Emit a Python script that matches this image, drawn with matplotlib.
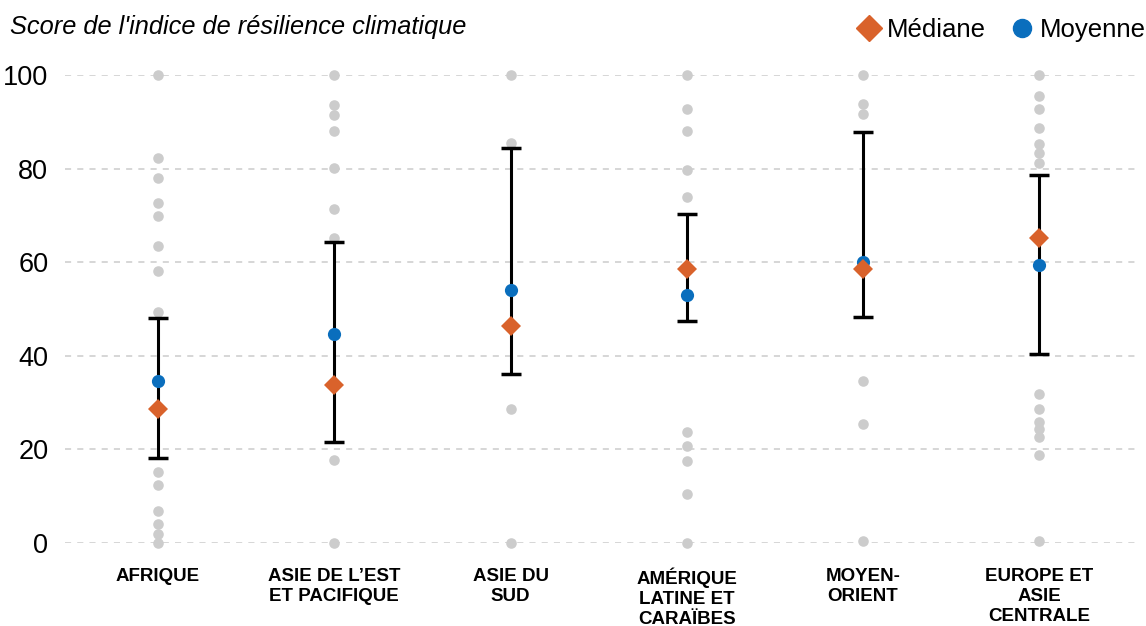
import numpy as np
import matplotlib
matplotlib.use("Agg")
import matplotlib.pyplot as plt
from matplotlib.lines import Line2D

plt.rcParams['font.family'] = ['Liberation Sans Narrow', 'Liberation Sans', 'DejaVu Sans']

# Régions et valeurs
regions = ["AFRIQUE", "ASIE DE L\u2019EST\nET PACIFIQUE", "ASIE DU\nSUD",
           "AM\u00c9RIQUE\nLATINE ET\nCARA\u00cfBES", "MOYEN-\nORIENT",
           "EUROPE ET\nASIE\nCENTRALE"]

pays_afrique = [100, 82.3, 78.0, 72.7, 69.8, 63.5, 58.1, 49.3, 15.1, 12.3, 6.8, 4.0, 1.9, 0]
pays_asie_est = [100, 93.6, 91.5, 88.0, 80.2, 71.3, 65.1, 17.7, 0]
pays_asie_sud = [100, 85.5, 28.7, 0]
pays_amerique = [100, 92.7, 88.0, 79.7, 73.9, 23.7, 20.8, 17.5, 10.4, 0]
pays_moyen_orient = [100, 93.8, 91.7, 34.7, 25.4, 0.5]
pays_europe = [100, 95.6, 92.7, 88.7, 85.3, 83.3, 81.1, 31.8, 28.6, 25.9, 24.3, 22.6, 18.7, 0.5]
pays = [pays_afrique, pays_asie_est, pays_asie_sud, pays_amerique, pays_moyen_orient, pays_europe]

medianes = [28.6, 33.8, 46.4, 58.6, 58.6, 65.2]
moyennes = [34.7, 44.6, 54.1, 53.0, 60.1, 59.4]
err_haut = [48.0, 64.3, 84.3, 70.4, 87.8, 78.6]
err_bas = [18.1, 21.5, 36.1, 47.4, 48.2, 40.3]

orange = "#D9622B"
bleu = "#0A6EBD"
gris = "#CCCCCC"

fig = plt.figure(figsize=(11.46, 6.26), dpi=100)
ax = fig.add_axes([0.0567, 0.1326, 0.9383, 0.7476])

x = np.arange(len(regions))

for i, vals in enumerate(pays):
    ax.scatter([x[i]] * len(vals), vals, s=58, color=gris, zorder=2, clip_on=False, linewidths=0)

moy = np.array(moyennes)
ax.errorbar(x, moy, yerr=[moy - np.array(err_bas), np.array(err_haut) - moy],
            fmt="none", ecolor="black", elinewidth=2.2, capsize=7, capthick=2.5, zorder=3)
ax.plot(x, moyennes, "o", color=bleu, markersize=9.5, markeredgewidth=0, zorder=4, clip_on=False)
ax.plot(x, medianes, "D", color=orange, markersize=10, markeredgewidth=0, zorder=5, clip_on=False)

ax.set_xlim(-0.528, 5.573)
ax.set_ylim(0, 100)
ax.set_yticks([0, 20, 40, 60, 80, 100])
ax.set_xticks(x)
ax.set_xticklabels(regions, fontsize=13.5, fontweight="bold", linespacing=1.22, va="top")
ax.tick_params(axis="both", length=0)
ax.tick_params(axis="x", pad=18)
ax.tick_params(axis="y", labelsize=19.5, pad=12)
ax.grid(axis="y", color=gris, linestyle=(0, (4, 4)), linewidth=1.1, zorder=0)
for s in ax.spines.values():
    s.set_visible(False)

fig.text(0.009, 0.957, "Score de l'indice de r\u00e9silience climatique", fontsize=18.3,
         style="italic", ha="left", va="center")

handles = [Line2D([], [], marker="D", color=orange, linestyle="none", markersize=13),
           Line2D([], [], marker="o", color=bleu, linestyle="none", markersize=13)]
fig.legend(handles, ["M\u00e9diane", "Moyenne"], loc="center right", bbox_to_anchor=(1.02, 0.952),
           ncol=2, frameon=False, fontsize=18.5, handletextpad=0.1, columnspacing=0.8,
           handlelength=1.2)

fig.savefig("out.png", dpi=100)
